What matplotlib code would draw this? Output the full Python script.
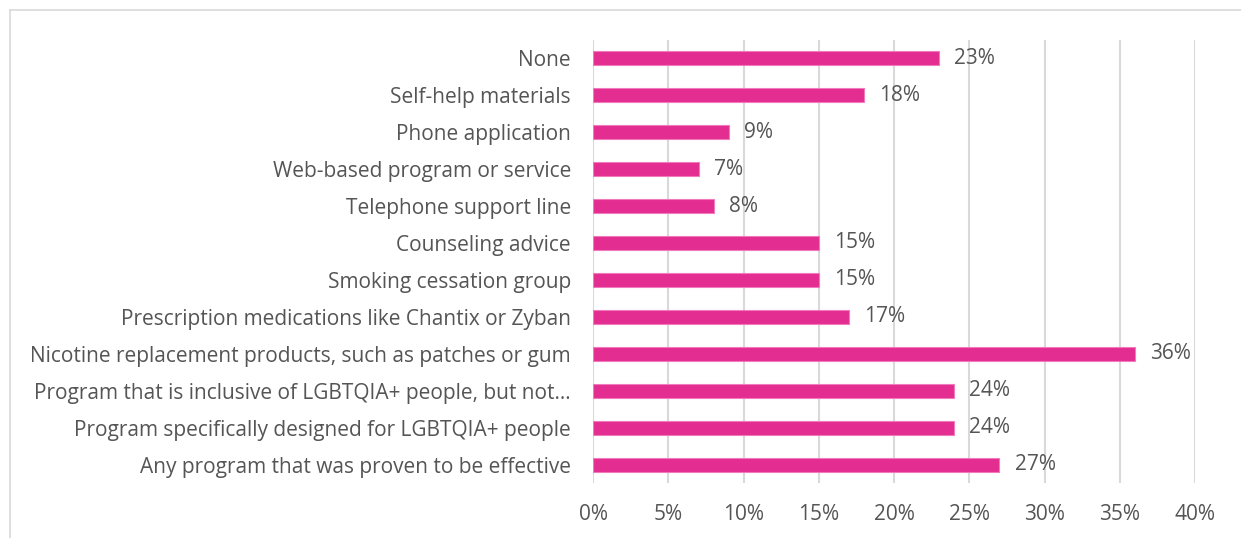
import matplotlib.pyplot as plt
from matplotlib.lines import Line2D
from matplotlib.ticker import FuncFormatter, MultipleLocator

categories = [
    'None',
    'Self-help materials',
    'Phone application',
    'Web-based program or service',
    'Telephone support line',
    'Counseling advice',
    'Smoking cessation group',
    'Prescription medications like Chantix or Zyban',
    'Nicotine replacement products, such as patches or gum',
    'Program that is inclusive of LGBTQIA+ people, but not\u2026',
    'Program specifically designed for LGBTQIA+ people',
    'Any program that was proven to be effective',
]
values = [23, 18, 9, 7, 8, 15, 15, 17, 36, 24, 24, 27]

plt.rcParams['font.family'] = ['Open Sans', 'DejaVu Sans']
text_color = '#555555'
bar_color = '#E32D91'
fsize = 15

fig = plt.figure(figsize=(12.41, 5.38), dpi=100)
ax = fig.add_axes([0.478, 0.102, 0.485, 0.824])

ypos = list(range(len(categories)))[::-1]
ax.barh(ypos, values, height=0.38, color=bar_color, edgecolor='#F07ABB',
        linewidth=0.8, zorder=3)

for y, v in zip(ypos, values):
    ax.text(v + 1.0, y, f'{v}%', va='center', ha='left', fontsize=fsize,
            color=text_color)

ax.set_xlim(0, 40)
ax.set_ylim(-0.5, 11.5)
ax.xaxis.set_major_locator(MultipleLocator(5))
ax.xaxis.set_major_formatter(FuncFormatter(lambda x, p: f'{x:.0f}%'))
ax.set_yticks(ypos)
ax.set_yticklabels(categories)
ax.tick_params(axis='both', length=0, labelsize=fsize, colors=text_color)
ax.tick_params(axis='y', pad=16)
ax.tick_params(axis='x', pad=15)
ax.grid(axis='x', color='#D9D9D9', linewidth=1.5, zorder=0)
for s in ax.spines.values():
    s.set_visible(False)

# chart border (top and left edges visible)
fig.add_artist(Line2D([10 / 1241, 1], [1 - 10 / 538, 1 - 10 / 538],
                      color='#D9D9D9', linewidth=1.2, transform=fig.transFigure))
fig.add_artist(Line2D([10 / 1241, 10 / 1241], [0, 1 - 10 / 538],
                      color='#D9D9D9', linewidth=1.2, transform=fig.transFigure))

fig.savefig('out.png', dpi=100)
